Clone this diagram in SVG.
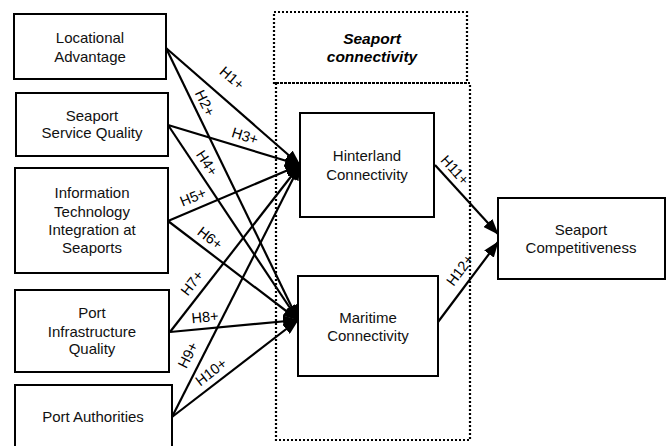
<svg xmlns="http://www.w3.org/2000/svg" width="667" height="446" viewBox="0 0 667 446">
<style>
.box{fill:#fff;stroke:#000;stroke-width:2}
.dot{fill:none;stroke:#000;stroke-width:2.2;stroke-dasharray:2 2}
.t{font-family:"Liberation Sans",Arial,sans-serif;font-size:15px;fill:#111;text-anchor:middle}
.ti{font-family:"Liberation Sans",Arial,sans-serif;font-size:15.5px;font-weight:bold;font-style:italic;fill:#000;text-anchor:middle}
.lbl{font-family:"Liberation Sans",Arial,sans-serif;font-size:14.5px;fill:#000;text-anchor:middle;dominant-baseline:central}
.c{stroke:#000;stroke-width:2.2;fill:none;marker-end:url(#ah)}
</style>
<defs>
<marker id="ah" markerUnits="userSpaceOnUse" markerWidth="16" markerHeight="12" refX="15" refY="6" orient="auto">
<path d="M0,0 L16,6 L0,12 z" fill="#000"/>
</marker>
</defs>
<rect width="667" height="446" fill="#fff"/>
<g id="seaport-connectivity">
<rect class="dot" x="274" y="12" width="193" height="71"/>
<rect class="dot" x="276" y="83" width="194" height="357"/>
<text class="ti" x="372" y="44">Seaport</text>
<text class="ti" x="372" y="62">connectivity</text>
</g>
<g id="connectors">
<line class="c" x1="166" y1="48" x2="300" y2="165"/>
<line class="c" x1="166" y1="48" x2="298" y2="320"/>
<line class="c" x1="168" y1="125" x2="300" y2="165"/>
<line class="c" x1="168" y1="125" x2="298" y2="320"/>
<line class="c" x1="168" y1="221" x2="300" y2="165"/>
<line class="c" x1="168" y1="221" x2="298" y2="320"/>
<line class="c" x1="170" y1="332" x2="300" y2="165"/>
<line class="c" x1="170" y1="332" x2="298" y2="320"/>
<line class="c" x1="172" y1="417" x2="300" y2="165"/>
<line class="c" x1="172" y1="417" x2="298" y2="320"/>
<line class="c" x1="435" y1="165" x2="498" y2="234"/>
<line class="c" x1="438" y1="322" x2="498" y2="242"/>
<text class="lbl" transform="translate(232,78) rotate(41)">H1+</text>
<text class="lbl" transform="translate(205,103) rotate(64)">H2+</text>
<text class="lbl" transform="translate(245,136) rotate(17)">H3+</text>
<text class="lbl" transform="translate(207,163) rotate(56.5)">H4+</text>
<text class="lbl" transform="translate(193,197) rotate(-22.6)">H5+</text>
<text class="lbl" transform="translate(210,238) rotate(37.8)">H6+</text>
<text class="lbl" transform="translate(192,283) rotate(-52)">H7+</text>
<text class="lbl" transform="translate(205,317) rotate(-5.4)">H8+</text>
<text class="lbl" transform="translate(188,355) rotate(-63)">H9+</text>
<text class="lbl" transform="translate(211,372) rotate(-37.5)">H10+</text>
<text class="lbl" transform="translate(455,170) rotate(47.6)">H11+</text>
<text class="lbl" transform="translate(460,270) rotate(-53)">H12+</text>
</g>
<g id="locational-advantage">
<rect class="box" x="14" y="14" width="152" height="65"/>
<text class="t" x="90" y="43">Locational</text>
<text class="t" x="90" y="62">Advantage</text>
</g>
<g id="seaport-service-quality">
<rect class="box" x="16" y="93" width="152" height="63"/>
<text class="t" x="92" y="121">Seaport</text>
<text class="t" x="92" y="138">Service Quality</text>
</g>
<g id="information-technology">
<rect class="box" x="15" y="168" width="153" height="105"/>
<text class="t" x="92" y="198">Information</text>
<text class="t" x="92" y="217">Technology</text>
<text class="t" x="92" y="235">Integration at</text>
<text class="t" x="92" y="253">Seaports</text>
</g>
<g id="port-infrastructure-quality">
<rect class="box" x="15" y="290" width="154" height="82"/>
<text class="t" x="92" y="318">Port</text>
<text class="t" x="92" y="337">Infrastructure</text>
<text class="t" x="92" y="354">Quality</text>
</g>
<g id="port-authorities">
<rect class="box" x="15" y="385" width="157" height="70"/>
<text class="t" x="93" y="422">Port Authorities</text>
</g>
<g id="hinterland-connectivity">
<rect class="box" x="300" y="113" width="134" height="104"/>
<text class="t" x="367" y="161">Hinterland</text>
<text class="t" x="367" y="180">Connectivity</text>
</g>
<g id="maritime-connectivity">
<rect class="box" x="298" y="276" width="140" height="100"/>
<text class="t" x="368" y="323">Maritime</text>
<text class="t" x="368" y="341">Connectivity</text>
</g>
<g id="seaport-competitiveness">
<rect class="box" x="498" y="198" width="167" height="81"/>
<text class="t" x="581" y="235">Seaport</text>
<text class="t" x="581" y="253">Competitiveness</text>
</g>
</svg>
